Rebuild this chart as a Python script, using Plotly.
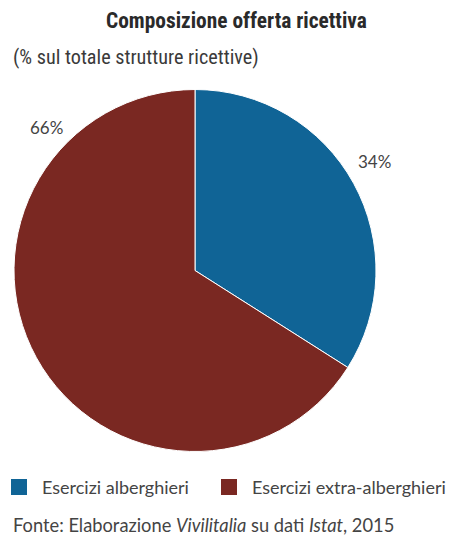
import plotly.graph_objects as go

# Share of accommodation facilities by type (%)
categories = ["Esercizi alberghieri", "Esercizi extra-alberghieri"]
shares = [34, 66]
colors = ["#106496", "#7a2822"]

COND = "Roboto Condensed, Open Sans Condensed, Noto Sans Condensed, DejaVu Sans Condensed, sans-serif"
FONT = "Lato, sans-serif"
W, H = 450, 536

fig = go.Figure()
fig.add_trace(go.Pie(
    labels=categories,
    values=shares,
    sort=False,
    direction="clockwise",
    rotation=0,
    textinfo="none",
    hoverinfo="label+percent",
    marker=dict(colors=colors, line=dict(color="white", width=1)),
    domain=dict(x=[14 / W, 376 / W], y=[1 - 452 / H, 1 - 89 / H]),
    showlegend=False,
))

# Percentage labels placed beside each slice
label_pos = [(374, 161), (46, 127)]
for v, (px, py) in zip(shares, label_pos):
    fig.add_annotation(
        x=px / W, y=1 - py / H, xref="paper", yref="paper",
        xanchor="center", yanchor="middle",
        text=f"{v}%", showarrow=False,
        font=dict(family=FONT, size=17, color="#444444"),
    )

# Key row below the pie: colour swatch followed by category name
key_x = [11, 221]
key_y = 487
sw = 16
for name, col, kx in zip(categories, colors, key_x):
    fig.add_shape(
        type="rect", xref="paper", yref="paper",
        x0=kx / W, x1=(kx + sw) / W,
        y0=1 - (key_y + sw / 2) / H, y1=1 - (key_y - sw / 2) / H,
        fillcolor=col, line=dict(width=0),
    )
    fig.add_annotation(
        x=(kx + sw + 13) / W, y=1 - key_y / H, xref="paper", yref="paper",
        xanchor="left", yanchor="middle",
        text=name, showarrow=False,
        font=dict(family=FONT, size=18, color="#444444"),
    )

fig.add_annotation(
    x=237 / W, y=1 - 20 / H, xref="paper", yref="paper",
    xanchor="center", yanchor="middle",
    text="<b>Composizione offerta ricettiva</b>", showarrow=False,
    font=dict(family=COND, size=21.4, color="#2a2a2a"),
)
fig.add_annotation(
    x=11 / W, y=1 - 57 / H, xref="paper", yref="paper",
    xanchor="left", yanchor="middle",
    text="(% sul totale strutture ricettive)", showarrow=False,
    font=dict(family=COND, size=20.2, color="#3a3a3a"),
)
fig.add_annotation(
    x=11 / W, y=1 - 525 / H, xref="paper", yref="paper",
    xanchor="left", yanchor="middle",
    text="Fonte: Elaborazione <i>Vivilitalia</i> su dati <i>Istat</i>, 2015",
    showarrow=False,
    font=dict(family=FONT, size=18.3, color="#444444"),
)

fig.update_layout(
    width=W, height=H,
    margin=dict(l=0, r=0, t=0, b=0),
    paper_bgcolor="white",
    plot_bgcolor="white",
    showlegend=False,
)

fig.write_html("out.html")
